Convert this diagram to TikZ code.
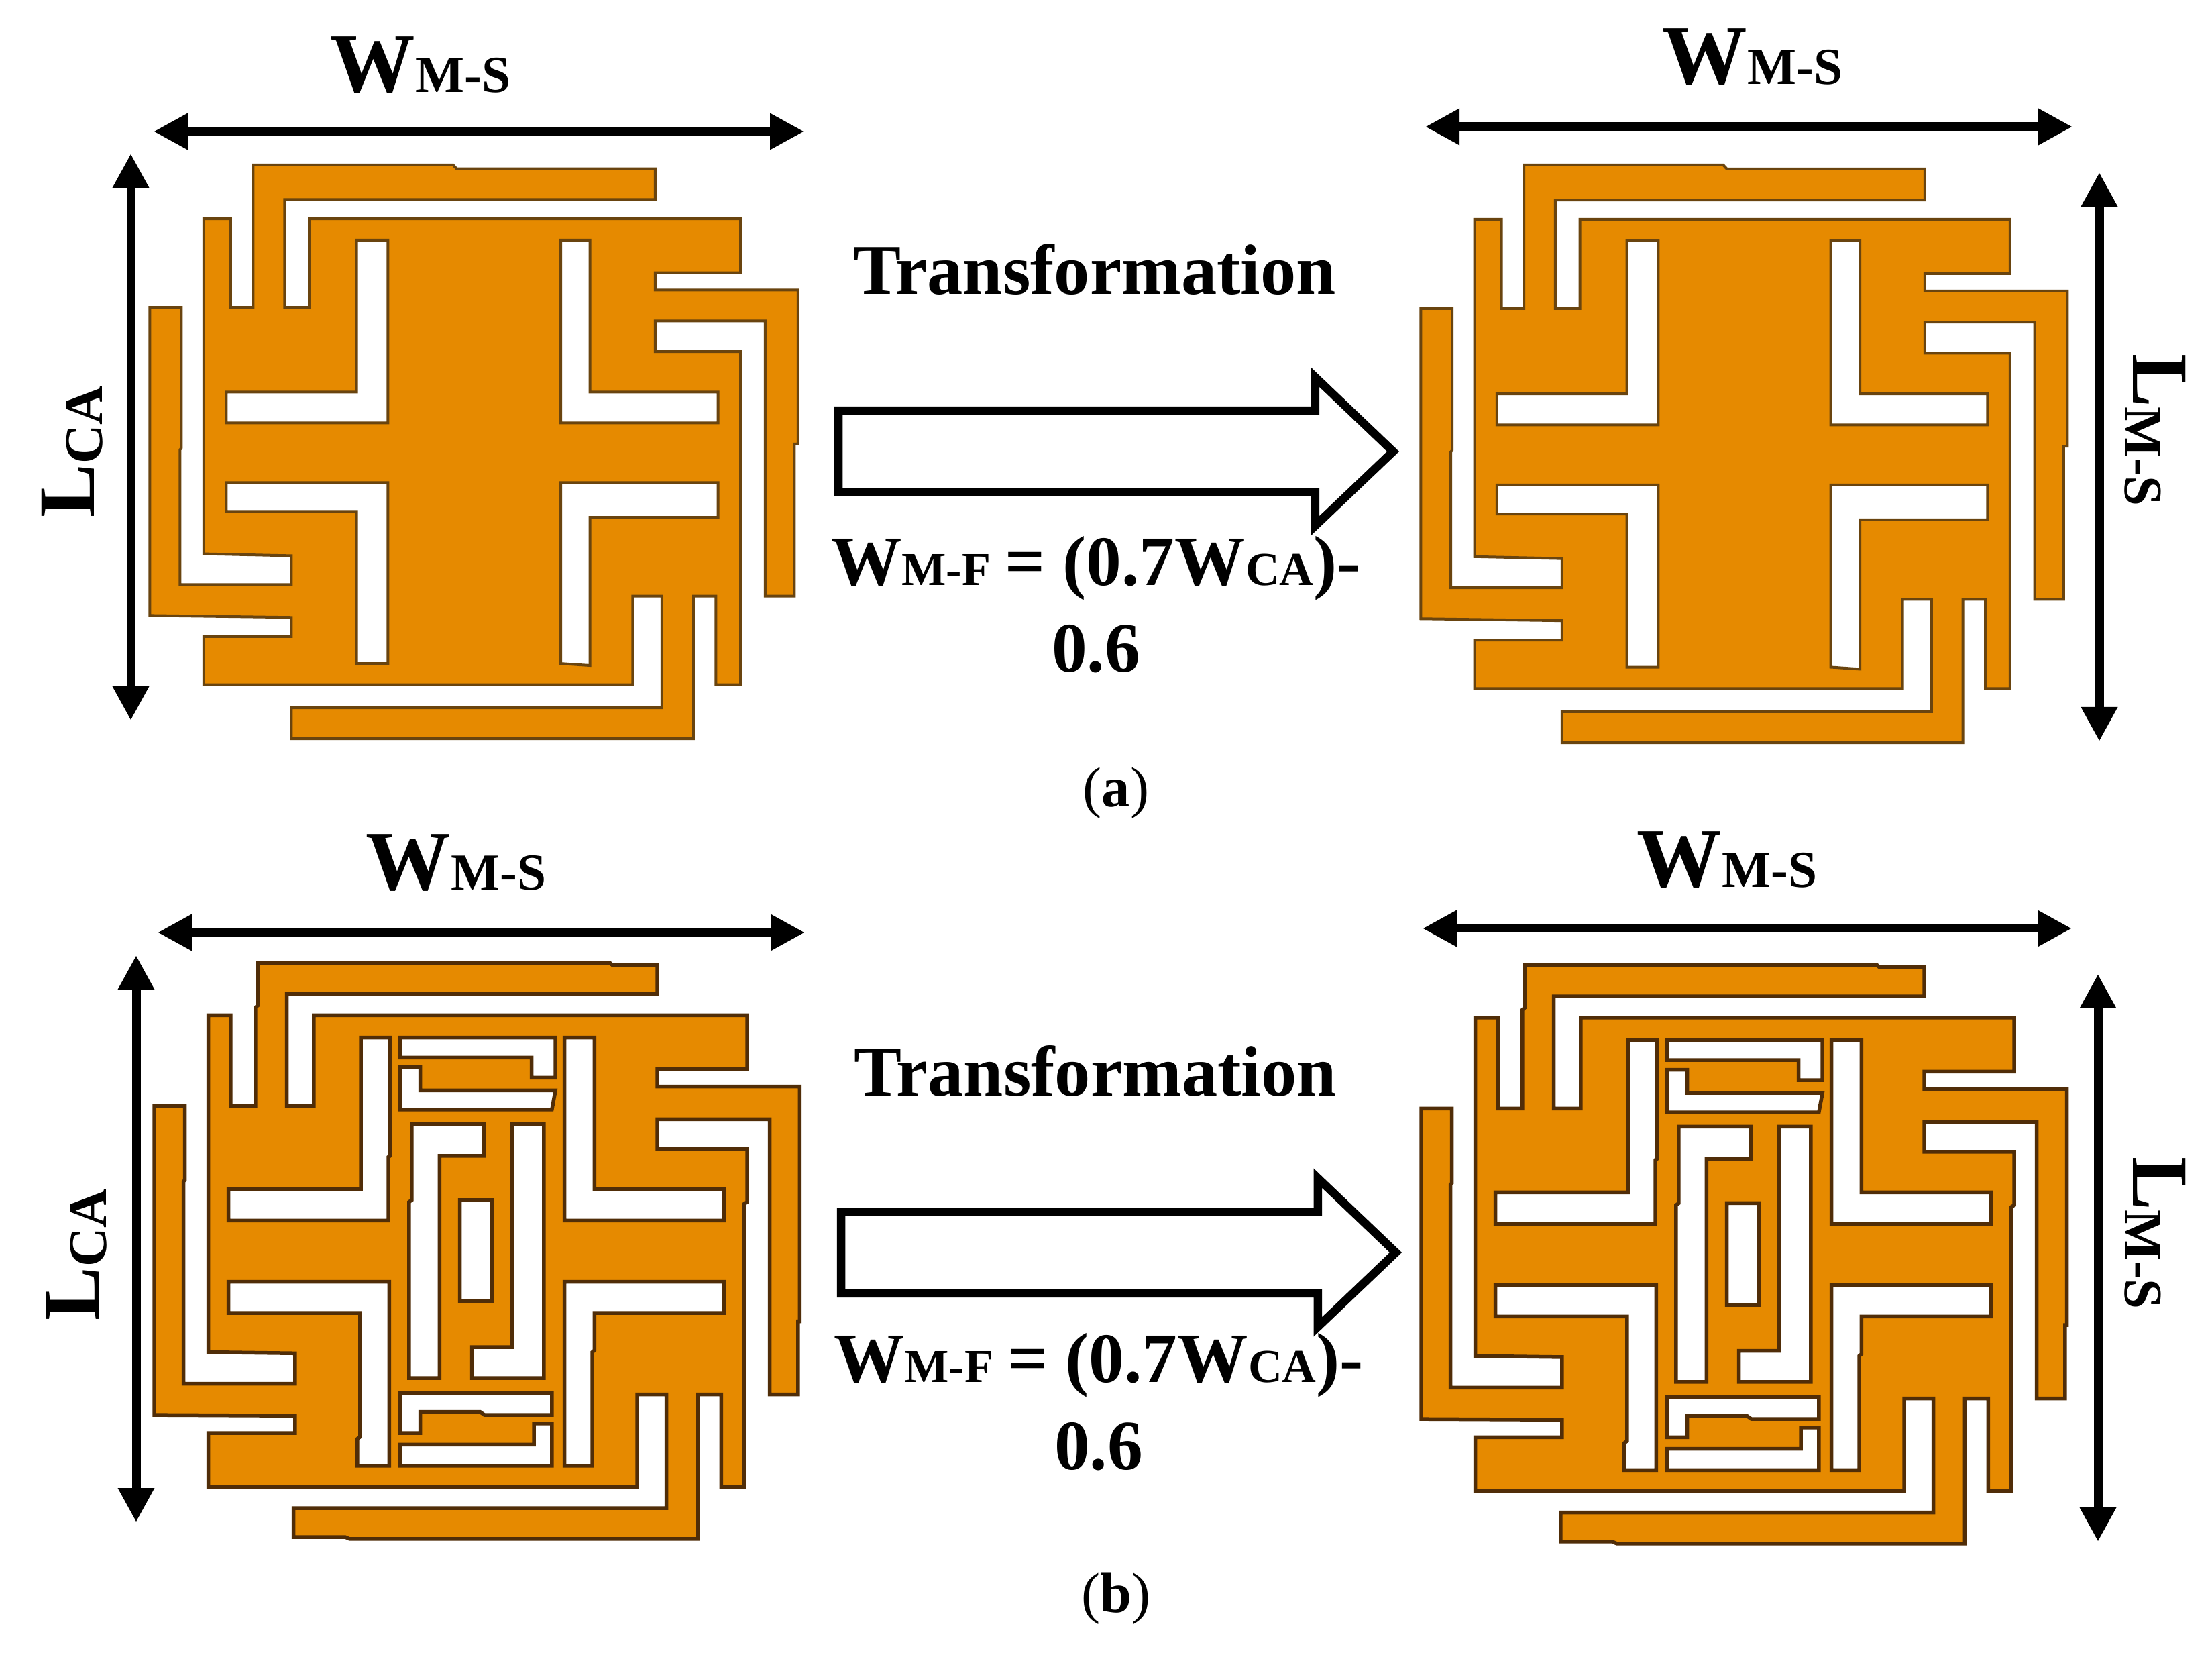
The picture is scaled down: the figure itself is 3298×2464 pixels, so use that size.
\documentclass[tikz,border=0pt]{standalone}
\usepackage{fontspec}
\setmainfont{Liberation Serif}
\usetikzlibrary{arrows.meta,shapes.arrows}
\definecolor{patchorange}{RGB}{230,138,0}
\definecolor{patchedge}{RGB}{105,68,15}
\definecolor{patchedgedark}{RGB}{80,45,8}
\newcommand{\wlabel}[2]{{\fontsize{36}{36}\selectfont #1}{\fontsize{22}{22}\selectfont #2}}
\newcommand{\llabel}[2]{{\fontsize{34}{34}\selectfont #1}\raisebox{-3.4pt}{\fontsize{23}{23}\selectfont #2}}
\newcommand{\flabel}[2]{{\fontsize{30}{30}\selectfont #1}{\fontsize{20}{20}\selectfont #2}}
\tikzset{
  patch/.style={fill=patchorange, draw=patchedge, line width=0.4mm, even odd rule},
  patchdark/.style={fill=patchorange, draw=patchedgedark, line width=0.55mm, even odd rule},
  dimarrow/.style={{Triangle[length=5.1mm,width=5.1mm]}-{Triangle[length=5.1mm,width=5.1mm]}, line width=1.3mm, shorten <=-0.1mm, shorten >=-0.1mm},
  bigarrow/.style={draw, line width=1.25mm, fill=white, shape=single arrow, anchor=tail, inner sep=0pt, outer sep=0pt, text height=5.45mm, text depth=5.45mm, minimum height=82.7mm, single arrow head extend=5mm, single arrow tip angle=87.3},
  lbl/.style={font=\bfseries, inner sep=0pt, anchor=base},
  pics/plainpatch/.style={code={
    \draw[patch] (155,185) -- (215,185) -- (215,415) -- (265,415) -- (265,45) -- (710,45) -- (718,55) -- (1160,55) -- (1160,135) -- (335,135) -- (335,415) -- (390,415) -- (390,185) -- (1350,185) -- (1350,325) -- (1160,325) -- (1160,370) -- (1478,370) -- (1478,770) -- (1470,770) -- (1470,1165) -- (1405,1165) -- (1405,450) -- (1160,450) -- (1160,530) -- (1350,530) -- (1350,1395) -- (1295,1395) -- (1295,1165) -- (1245,1165) -- (1245,1535) -- (350,1535) -- (350,1455) -- (1175,1455) -- (1175,1165) -- (1110,1165) -- (1110,1395) -- (155,1395) -- (155,1270) -- (350,1270) -- (350,1220) -- (35,1215) -- (35,415) -- (105,415) -- (105,780) -- (102,785) -- (102,1135) -- (350,1135) -- (350,1060) -- (155,1055) -- cycle
      (495,240) -- (565,240) -- (565,715) -- (205,715) -- (205,635) -- (495,635) -- cycle
      (950,240) -- (1015,240) -- (1015,635) -- (1300,635) -- (1300,715) -- (950,715) -- cycle
      (205,870) -- (565,870) -- (565,1340) -- (495,1340) -- (495,945) -- (205,945) -- cycle
      (950,870) -- (1300,870) -- (1300,960) -- (1015,960) -- (1015,1345) -- (950,1340) -- cycle;
  }},
  pics/slotpatch/.style={code={
    \draw[patchdark] (165,180) -- (215,180) -- (215,415) -- (270,415) -- (270,160) -- (275,155) -- (275,45) -- (1060,45) -- (1065,50) -- (1165,50) -- (1165,125) -- (340,125) -- (340,415) -- (400,415) -- (400,180) -- (1365,180) -- (1365,320) -- (1165,320) -- (1165,365) -- (1482,365) -- (1482,975) -- (1478,975) -- (1478,1165) -- (1415,1165) -- (1415,450) -- (1165,450) -- (1165,527) -- (1365,527) -- (1365,665) -- (1358,670) -- (1358,1405) -- (1307,1405) -- (1307,1165) -- (1255,1165) -- (1255,1540) -- (480,1540) -- (470,1535) -- (355,1535) -- (355,1460) -- (1185,1460) -- (1185,1165) -- (1120,1165) -- (1120,1405) -- (165,1405) -- (165,1265) -- (358,1265) -- (358,1220) -- (45,1218) -- (45,415) -- (113,415) -- (113,608) -- (110,612) -- (110,1137) -- (358,1137) -- (358,1058) -- (165,1055) -- cycle
      (505,238) -- (570,238) -- (570,545) -- (566,548) -- (566,713) -- (210,713) -- (210,632) -- (505,632) -- cycle
      (958,238) -- (1025,238) -- (1025,632) -- (1313,632) -- (1313,713) -- (958,713) -- cycle
      (210,872) -- (568,872) -- (568,1350) -- (497,1350) -- (497,1280) -- (503,1275) -- (503,953) -- (210,953) -- cycle
      (958,872) -- (1313,872) -- (1313,953) -- (1025,953) -- (1025,1050) -- (1020,1055) -- (1020,1350) -- (958,1350) -- cycle
      (592,238) -- (938,238) -- (938,342) -- (885,342) -- (885,290) -- (592,290) -- cycle
      (592,315) -- (637,315) -- (637,375) -- (938,375) -- (930,425) -- (592,425) -- cycle
      (618,462) -- (778,462) -- (778,545) -- (680,545) -- (680,1122) -- (612,1122) -- (612,665) -- (618,660) -- cycle
      (842,462) -- (912,462) -- (912,1122) -- (752,1122) -- (752,1042) -- (842,1042) -- cycle
      (725,660) -- (797,660) -- (797,923) -- (725,923) -- cycle
      (592,1162) -- (930,1162) -- (930,1218) -- (780,1218) -- (770,1210) -- (637,1210) -- (637,1265) -- (592,1265) -- cycle
      (890,1240) -- (930,1240) -- (930,1350) -- (592,1350) -- (592,1295) -- (890,1295) -- cycle;
  }}
}
\begin{document}
\begin{tikzpicture}[x=0.1mm, y=-0.1mm]
  \useasboundingbox (0,0) rectangle (3298,2464);

  \pic[xscale=.6697, yscale=.574] (patchal) at (200,220) {plainpatch};
  \pic[xscale=.668, yscale=.578] (patchar) at (2095,220) {plainpatch};
  \pic[xscale=.6697, yscale=.574] (patchbl) at (200,1410) {slotpatch};
  \pic[xscale=.6697, yscale=.5765] (patchbr) at (2089,1413) {slotpatch};

  \coordinate (awl) at (230,196);
  \coordinate (awr) at (1198,196);
  \coordinate (alt) at (195,230);
  \coordinate (alb) at (195,1073);
  \coordinate (bwl) at (2126,189);
  \coordinate (bwr) at (3089,189);
  \coordinate (blt) at (3130,258);
  \coordinate (blb) at (3130,1104);
  \coordinate (cwl) at (236,1390);
  \coordinate (cwr) at (1199,1390);
  \coordinate (clt) at (203,1425);
  \coordinate (clb) at (203,2268);
  \coordinate (dwl) at (2122,1384);
  \coordinate (dwr) at (3088,1384);
  \coordinate (dlt) at (3128,1453);
  \coordinate (dlb) at (3128,2297);

  \draw[dimarrow] (awl) -- (awr);
  \draw[dimarrow] (alt) -- (alb);
  \draw[dimarrow] (bwl) -- (bwr);
  \draw[dimarrow] (blt) -- (blb);
  \draw[dimarrow] (cwl) -- (cwr);
  \draw[dimarrow] (clt) -- (clb);
  \draw[dimarrow] (dwl) -- (dwr);
  \draw[dimarrow] (dlt) -- (dlb);

  \node[lbl] (awidth) at (627,138) {\wlabel{W}{M-S}};
  \node[lbl] (bwidth) at (2613,126) {\wlabel{W}{M-S}};
  \node[lbl] (cwidth) at (680,1327) {\wlabel{W}{M-S}};
  \node[lbl] (dwidth) at (2575,1323) {\wlabel{W}{M-S}};

  \node[lbl, rotate=90] (alength) at (141,673) {\llabel{L}{CA}};
  \node[lbl, rotate=-90] (blength) at (3180,641) {\llabel{L}{M-S}};
  \node[lbl, rotate=90] (clength) at (147,1870) {\llabel{L}{CA}};
  \node[lbl, rotate=-90] (dlength) at (3180,1838) {\llabel{L}{M-S}};

  \node[bigarrow] (arrowa) at (1250,673) {};
  \node[bigarrow] (arrowb) at (1254,1867) {};

  \node[lbl, font=\bfseries\fontsize{30.3}{30.3}\selectfont] (transforma) at (1632,439) {Transformation};
  \node[lbl, font=\bfseries\fontsize{30.3}{30.3}\selectfont] (transformb) at (1633,1633) {Transformation};

  \node[lbl, align=center] (formulaa) at (1634,1002) {\flabel{W}{M-F}\hspace{6pt}\flabel{= (0.7W}{CA}\flabel{)-}{}\\[9.5pt]\flabel{0.6}{}};
  \node[lbl, align=center] (formulab) at (1638,2190) {\flabel{W}{M-F}\hspace{6pt}\flabel{= (0.7W}{CA}\flabel{)-}{}\\[9.5pt]\flabel{0.6}{}};

  \node[lbl, font=\fontsize{24}{24}\selectfont] (capa) at (1664,1203) {(\textbf{a})};
  \node[lbl, font=\fontsize{24}{24}\selectfont] (capb) at (1664,2403) {(\textbf{b})};
\end{tikzpicture}
\end{document}
